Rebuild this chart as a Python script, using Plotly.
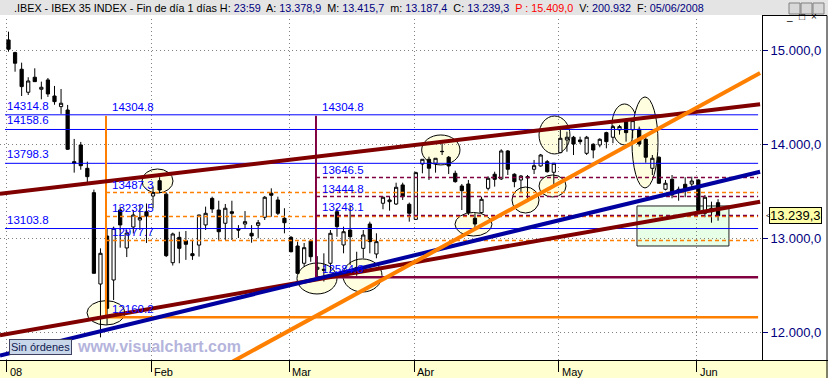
import plotly.graph_objects as go

# ---------------- data ----------------
opens = [15112, 14977, 14800, 14555, 14715, 14587, 14686, 14515, 14402, 14366,
         13816, 13994, 13745, 13486, 12513, 13024, 12556, 13301, 12897, 13120,
         13195, 13283, 13450, 13613, 13470, 12740, 13010, 12974, 12836, 12928,
         13142, 13425, 13301, 13160, 13283, 13096, 13152, 13053, 13138, 13224,
         13480, 13408, 13213, 13010, 12918, 12734, 12974, 12670, 12670, 12734,
         13283, 12929, 13088, 12690, 12893, 13152, 12833, 13373, 13390, 13365,
         13568, 13362, 13202, 13791, 13841, 13799, 13922, 13863, 13692, 13557,
         13578, 13213, 13273, 13532, 13682, 13632, 13930, 13682, 13621, 13656,
         13735, 13770, 13816, 13703, 13912, 14047, 14076, 14047, 13905, 14001,
         13994, 14125, 14076, 14154, 14260, 14154, 14161, 14054, 13745, 13863,
         13522, 13628, 13522, 13575, 13578, 13621, 13266, 13320, 13379]
highs = [15200, 14987, 14870, 14715, 14810, 14668, 14707, 14622, 14590, 14420,
         14058, 14026, 13816, 13518, 12893, 13110, 13124, 13337, 13088, 13300,
         13355, 13370, 13550, 13650, 13490, 13060, 13070, 13078, 12985, 13250,
         13337, 13443, 13400, 13365, 13400, 13140, 13290, 13140, 13195, 13450,
         13532, 13443, 13320, 13024, 12964, 12950, 12990, 12810, 12840, 13088,
         13320, 13124, 13355, 12857, 13088, 13177, 13053, 13443, 13443, 13592,
         13592, 13380, 13709, 13841, 13869, 13852, 14010, 13876, 13720, 13578,
         13621, 13266, 13443, 13660, 13709, 13948, 13940, 13692, 13674, 13674,
         13834, 13898, 13834, 13799, 14171, 14135, 14090, 14082, 14090, 14012,
         14065, 14135, 14207, 14207, 14278, 14267, 14189, 14082, 13887, 13873,
         13621, 13674, 13550, 13650, 13656, 13628, 13461, 13390, 13416]
lows = [14987, 14774, 14515, 14526, 14668, 14480, 14505, 14422, 14325, 13940,
        13699, 13730, 13597, 12627, 11945, 12080, 12343, 12900, 12800, 13050,
        13088, 12950, 13320, 13480, 12800, 12710, 12734, 12770, 12770, 12805,
        13088, 13270, 12974, 12982, 12982, 13003, 13100, 12953, 13000, 13195,
        13230, 13248, 13053, 12850, 12627, 12700, 12750, 12590, 12540, 12644,
        13017, 12840, 12716, 12600, 12787, 12840, 12787, 13309, 13294, 13355,
        13408, 13177, 13195, 13692, 13621, 13699, 13887, 13684, 13592, 13301,
        13248, 13106, 13266, 13510, 13550, 13621, 13674, 13543, 13480, 13408,
        13684, 13763, 13699, 13568, 13905, 13922, 13887, 14004, 13887, 13852,
        13969, 13958, 14012, 14104, 14029, 14065, 13976, 13805, 13674, 13580,
        13510, 13426, 13400, 13437, 13543, 13283, 13224, 13166, 13187]
closes = [15013, 14864, 14615, 14675, 14668, 14608, 14537, 14455, 14438, 13948,
          13799, 13773, 13656, 12627, 12840, 12254, 13106, 13142, 13056, 13248,
          13220, 13237, 13486, 13514, 12815, 13046, 12893, 12936, 12815, 13248,
          13266, 13312, 13070, 13320, 13266, 13088, 13177, 13025, 13166, 13437,
          13458, 13266, 13166, 12857, 12627, 12900, 12804, 12691, 12660, 13053,
          13124, 13070, 13017, 12675, 13035, 12964, 12964, 13437, 13408, 13543,
          13443, 13266, 13699, 13841, 13746, 13852, 13925, 13770, 13603, 13507,
          13273, 13152, 13415, 13639, 13628, 13930, 13735, 13603, 13663, 13645,
          13773, 13887, 13709, 13799, 14065, 14076, 14004, 14029, 14076, 13940,
          14054, 14029, 14189, 14189, 14125, 14253, 14004, 13863, 13852, 13586,
          13586, 13461, 13496, 13532, 13610, 13294, 13437, 13283, 13239]
day_index = list(range(len(opens)))

month_start_idx = [0, 22, 43, 62, 84, 105]
month_labels = ["08", "Feb", "Mar", "Abr", "May", "Jun"]
y_ticks = [12000, 13000, 14000, 15000]

blue_levels = [14314.8, 14158.6, 13798.3, 13103.8]
fib1_top, fib1_low, fib1_start = 14304.8, 12160.2, 14.84
fib1_levels = [13487.3, 13232.5, 12977.7]
fib2_top, fib2_low, fib2_start = 14304.8, 12584.8, 46.8
fib2_levels = [13646.5, 13444.8, 13243.1]
level_start = -0.53
level_end = 114.1

upper_channel = ([-1.3, 114.4], [13473, 14427])
lower_channel = ([-1.3, 114.4], [11968, 13390])
blue_trend = ([-1.3, 114.4], [11752, 13709])
orange_trend = ([34.0, 114.4], [11683, 14760])

ellipses = [(11.95, 17.73, 12077, 12336), (20.32, 25.04, 13482, 13738),
            (43.91, 50.0, 12407, 12737), (50.9, 56.85, 12428, 12780),
            (62.89, 68.72, 13781, 14100), (67.96, 73.59, 13024, 13275),
            (76.64, 80.75, 13269, 13546), (80.75, 84.86, 13440, 13674),
            (80.75, 85.46, 13898, 14302), (91.86, 95.66, 13994, 14430),
            (94.9, 98.86, 13536, 14505)]
zone_box = (95.66, 109.66, 12918, 13344)

hdr_A, hdr_M, hdr_m, hdr_C, hdr_P, hdr_V = 13378.9, 13415.7, 13187.4, 13239.3, 15409.0, 200932
hdr_F = "05/06/2008"
last_close = 13239.3

# ---------------- layout helpers ----------------
W, H = 828, 378
ML, MR, MT, MB = 0, 66, 19, 18
PW, PH = W - ML - MR, H - MT - MB
FONT = "Liberation Sans, Arial, sans-serif"


def px(x):
    return (x - ML) / PW


def py(y):
    return (H - MB - y) / PH


def es(v, d=1):
    s = f"{v:,.{d}f}"
    return s.replace(",", "#").replace(".", ",").replace("#", ".")


fig = go.Figure()


def seg(xs, ys, color, width, dash=None):
    fig.add_trace(go.Scatter(x=xs, y=ys, mode="lines", hoverinfo="skip", showlegend=False,
                             line=dict(color=color, width=width, dash=dash)))


annotations = []


def lab(x, y, text, color="#0000FF", size=11.5, xshift=0, yshift=9):
    annotations.append(dict(x=x, y=y, xref="x", yref="y", text=text, showarrow=False,
                            xanchor="left", yanchor="middle", xshift=xshift, yshift=yshift,
                            font=dict(family=FONT, size=size, color=color)))


# blue horizontal levels
for lv in blue_levels:
    seg([level_start, level_end], [lv, lv], "#0000FF", 1)
    lab(level_start, lv, f"{lv:.1f}")

# fib 1 (orange)
for lv in fib1_levels:
    seg([fib1_start, level_end], [lv, lv], "#FF8000", 1.5, "4px,3px")
    lab(fib1_start, lv, f"{lv:.1f}", xshift=4, yshift=8)
seg([fib1_start, level_end], [fib1_low, fib1_low], "#FF8000", 2.5)
seg([fib1_start, fib1_start], [fib1_top, fib1_low], "#FF8000", 2)
lab(fib1_start, fib1_top, f"{fib1_top:.1f}", xshift=4)
lab(fib1_start, fib1_low, f"{fib1_low:.1f}", xshift=4, yshift=8)

# fib 2 (purple)
for lv in fib2_levels:
    seg([fib2_start, level_end], [lv, lv], "#800040", 1.5, "4px,3px")
    lab(fib2_start, lv, f"{lv:.1f}", xshift=4, yshift=8)
seg([fib2_start, level_end], [fib2_low, fib2_low], "#800040", 2.5)
seg([fib2_start, fib2_start], [fib2_top, fib2_low], "#800040", 2)
lab(fib2_start, fib2_top, f"{fib2_top:.1f}", xshift=4)
lab(fib2_start, fib2_low, f"{fib2_low:.1f}", xshift=4, yshift=8)

# trend lines
seg(*upper_channel, "#800000", 4)
seg(*lower_channel, "#800000", 4)
seg(*blue_trend, "#0000A0", 4)
seg(*orange_trend, "#FF8000", 4)

# candles
fig.add_trace(go.Candlestick(
    x=day_index, open=opens, high=highs, low=lows, close=closes,
    increasing=dict(line=dict(color="black", width=1), fillcolor="white"),
    decreasing=dict(line=dict(color="black", width=1), fillcolor="black"),
    whiskerwidth=0, hoverinfo="skip", showlegend=False))

shapes = []
for (x0, x1, y0, y1) in ellipses:
    shapes.append(dict(type="circle", xref="x", yref="y", x0=x0, x1=x1, y0=y0, y1=y1,
                       fillcolor="#FFFFE0", line=dict(color="black", width=1), layer="below"))
shapes.append(dict(type="rect", xref="x", yref="y", x0=zone_box[0], x1=zone_box[1],
                   y0=zone_box[2], y1=zone_box[3], fillcolor="#E6FFE6",
                   line=dict(color="#202020", width=1), layer="below"))

# header band & bottom band
shapes.append(dict(type="rect", xref="paper", yref="paper", x0=px(0), x1=px(W), y0=py(15), y1=py(0),
                   fillcolor="#E4E4E4", line=dict(width=0), layer="below"))
shapes.append(dict(type="rect", xref="paper", yref="paper", x0=px(0), x1=px(W), y0=py(H), y1=py(360.5),
                   fillcolor="#FFFFD0", line=dict(width=0), layer="below"))
shapes.append(dict(type="line", xref="paper", yref="paper", x0=px(762), x1=px(W), y0=py(360.5), y1=py(360.5),
                   line=dict(color="black", width=1)))
shapes.append(dict(type="line", xref="paper", yref="paper", x0=px(762), x1=px(827), y0=py(15.5), y1=py(15.5),
                   line=dict(color="black", width=1)))
shapes.append(dict(type="line", xref="paper", yref="paper", x0=px(762.5), x1=px(762.5), y0=py(19), y1=py(15.5),
                   line=dict(color="black", width=1)))
shapes.append(dict(type="line", xref="paper", yref="paper", x0=px(827), x1=px(827), y0=py(H), y1=py(15.5),
                   line=dict(color="black", width=1)))
# window buttons
for bx in [789, 801, 813]:
    shapes.append(dict(type="rect", xref="paper", yref="paper", x0=px(bx), x1=px(bx + 11),
                       y0=py(14), y1=py(3), fillcolor="#D8D8D8", line=dict(color="#808080", width=1)))
for bx, g in zip([789, 801, 813], ["_", "□", "×"]):
    annotations.append(dict(x=px(bx + 5.5), y=py(8.5), xref="paper", yref="paper", text=g,
                            showarrow=False, font=dict(family=FONT, size=10, color="black")))

# price tag
annotations.append(dict(x=px(769), y=last_close, xref="paper", yref="y", text=es(last_close),
                        showarrow=False, xanchor="left", yanchor="middle", bgcolor="#FFFFA8",
                        bordercolor="black", borderwidth=1, borderpad=0,
                        font=dict(family=FONT, size=13, color="black")))
annotations.append(dict(x=px(764), y=last_close, xref="paper", yref="y", text="<",
                        showarrow=False, xanchor="left", yanchor="middle",
                        font=dict(family=FONT, size=8, color="black")))

# month labels
for i, t in zip(month_start_idx, month_labels):
    annotations.append(dict(x=i - 0.25, y=py(363.5), xref="x", yref="paper", text=t, showarrow=False,
                            xanchor="left", yanchor="top", xshift=1,
                            font=dict(family=FONT, size=11, color="black")))

# header text
N = "#000080"
hdr = (".IBEX - IBEX 35 INDEX - Fin de día 1 días H: "
       f"<span style='color:{N}'>23:59</span>  A: <span style='color:{N}'>{es(hdr_A)}</span>"
       f"  M: <span style='color:{N}'>{es(hdr_M)}</span>  m: <span style='color:{N}'>{es(hdr_m)}</span>"
       f"  C: <span style='color:{N}'>{es(hdr_C)}</span>  <span style='color:#FF0000'>P : {es(hdr_P)}</span>"
       f"  V: <span style='color:{N}'>{es(hdr_V, 0)}</span>  F: <span style='color:{N}'>{hdr_F}</span>")
annotations.append(dict(x=px(12), y=py(7.5), xref="paper", yref="paper", text=hdr, showarrow=False,
                        xanchor="left", yanchor="middle", font=dict(family=FONT, size=10.8, color="black")))

# Sin órdenes box and watermark
annotations.append(dict(x=px(75), y=py(346), xref="paper", yref="paper", text="<b>www.visualchart.com</b>",
                        showarrow=False, xanchor="left", yanchor="middle",
                        font=dict(family=FONT, size=16, color="#B4B4DC")))
annotations.append(dict(x=px(9), y=py(347), xref="paper", yref="paper", text="Sin órdenes",
                        showarrow=False, xanchor="left", yanchor="middle", bgcolor="#C8D6EA",
                        bordercolor="#404060", borderwidth=1, borderpad=1,
                        font=dict(family=FONT, size=11, color="#102050")))

fig.update_layout(
    width=W, height=H, margin=dict(l=ML, r=MR, t=MT, b=MB),
    paper_bgcolor="white", plot_bgcolor="white", separators=",.",
    showlegend=False, shapes=shapes, annotations=annotations,
    xaxis=dict(range=[-1.294, 114.69], tickvals=[i - 0.25 for i in month_start_idx],
               showticklabels=False, ticks="outside", ticklen=11, tickcolor="black",
               showgrid=True, gridcolor="#808080", griddash="1px,3px", gridwidth=1,
               showline=True, linecolor="black", linewidth=1, zeroline=False,
               rangeslider=dict(visible=False), fixedrange=True),
    yaxis=dict(range=[11704, 15335], side="right", tickvals=y_ticks, tickformat=",.1f",
               ticks="outside", ticklen=5, tickcolor="#000080",
               tickfont=dict(family=FONT, size=13, color="#000080"),
               showgrid=True, gridcolor="#808080", griddash="1px,3px", gridwidth=1,
               showline=True, linecolor="black", linewidth=1, zeroline=False, fixedrange=True),
)

fig.write_html("out.html")
